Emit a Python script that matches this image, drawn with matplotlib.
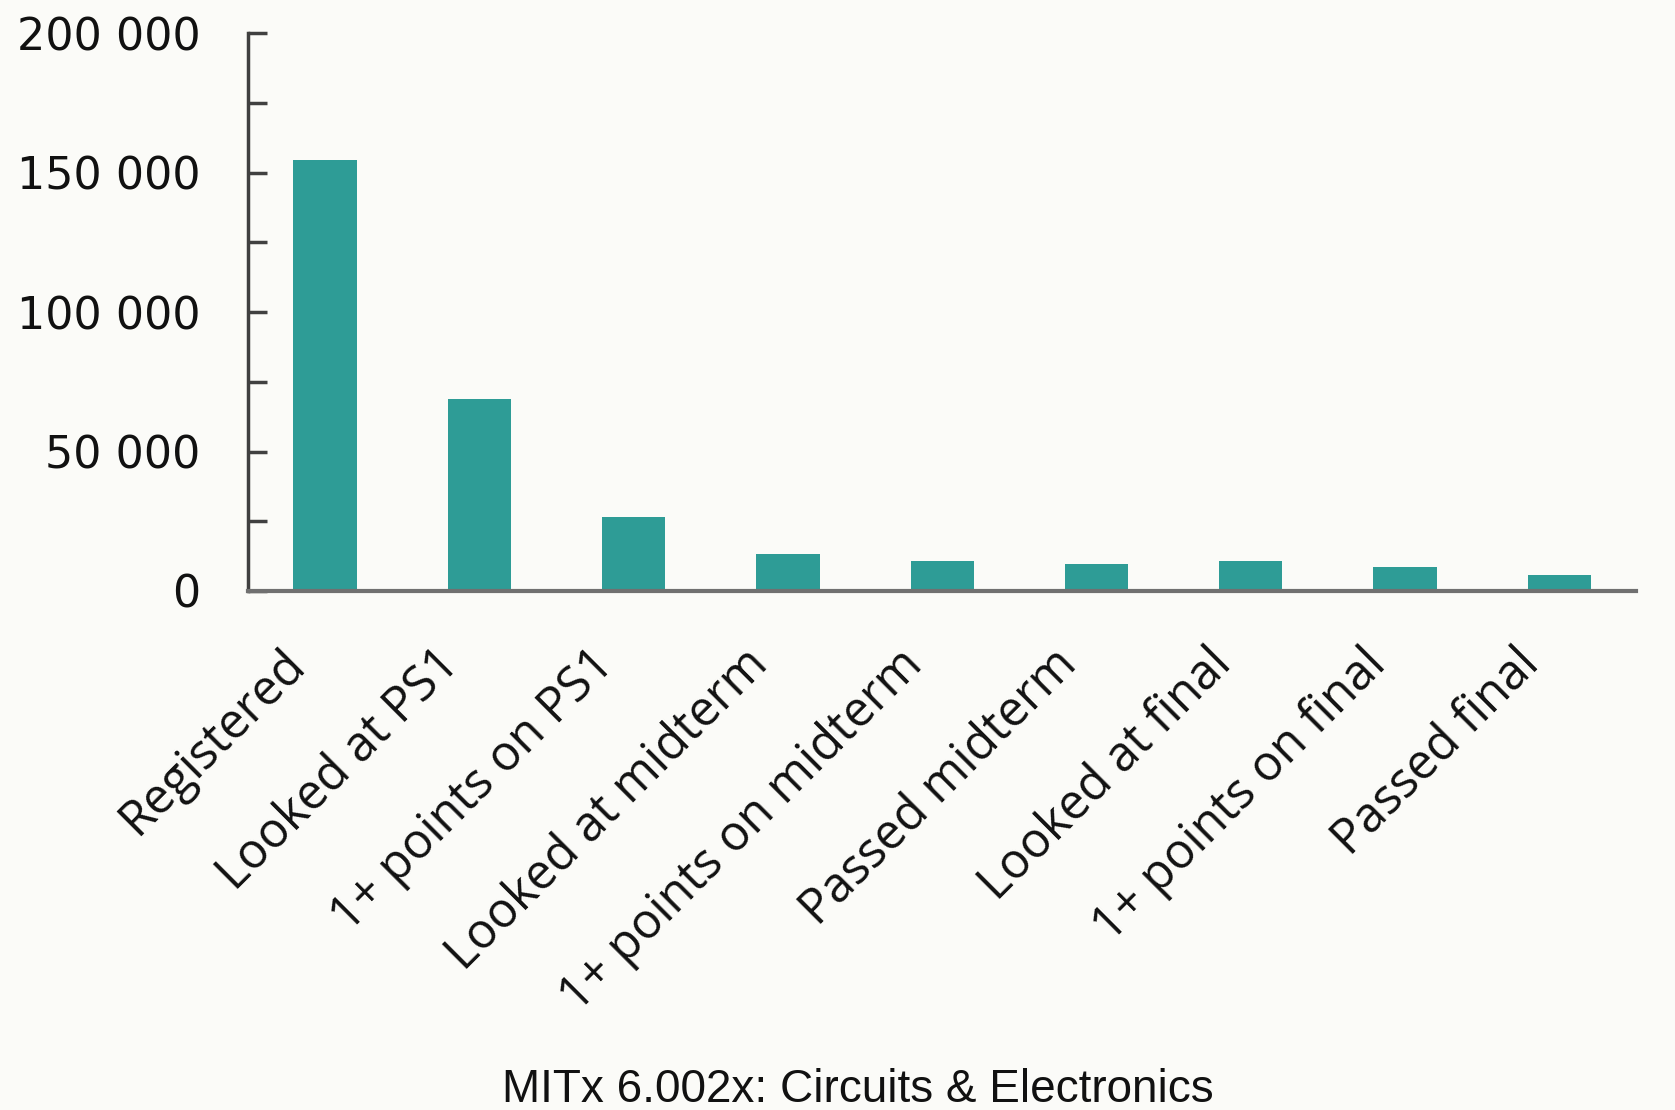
import matplotlib.pyplot as plt
import matplotlib.transforms as mtransforms
from matplotlib.ticker import FuncFormatter, MultipleLocator

etapes = ["Registered", "Looked at PS1", "1+ points on PS1", "Looked at midterm",
          "1+ points on midterm", "Passed midterm", "Looked at final",
          "1+ points on final", "Passed final"]
etudiants = [154500, 69000, 26500, 13200, 10600, 9700, 10600, 8700, 5800]

fond = "#fbfbf8"
fig = plt.figure(figsize=(16.75, 11.1), dpi=100, facecolor=fond)
ax = fig.add_axes([0.148, 0.4676, 0.829, 0.5024], facecolor=fond)

ax.bar(range(len(etapes)), etudiants, width=0.41, color="#2e9c96")
ax.set_xlim(-0.5, len(etapes) - 0.5)
ax.set_ylim(0, 200000)

# ticks tous les 25 000, labels tous les 50 000
ax.yaxis.set_major_locator(MultipleLocator(50000))
ax.yaxis.set_minor_locator(MultipleLocator(25000))
ax.yaxis.set_major_formatter(FuncFormatter(lambda v, p: f"{int(v):,}".replace(",", " ")))
ax.tick_params(axis="y", which="both", direction="in", length=14, width=2.5,
               color="#404040", labelsize=32, pad=34, labelcolor="#111111")

ax.set_xticks(range(len(etapes)))
ax.set_xticklabels(etapes, rotation=45, ha="right", va="center",
                   rotation_mode="anchor", fontsize=35, family="Open Sans",
                   color="#111111")
ax.tick_params(axis="x", length=0, pad=44)
decalage = mtransforms.ScaledTranslation(-0.27, -0.05, fig.dpi_scale_trans)
for lab in ax.get_xticklabels():
    lab.set_transform(lab.get_transform() + decalage)

for s in ["top", "right"]:
    ax.spines[s].set_visible(False)
ax.spines["left"].set_color("#404040")
ax.spines["left"].set_linewidth(2.5)
ax.spines["bottom"].set_color("#707070")
ax.spines["bottom"].set_linewidth(3)

fig.text(0.512, -0.002, "MITx 6.002x: Circuits & Electronics", ha="center",
         va="bottom", fontsize=33, family="Liberation Sans", color="#111111")

fig.savefig("out.png", facecolor=fond)
